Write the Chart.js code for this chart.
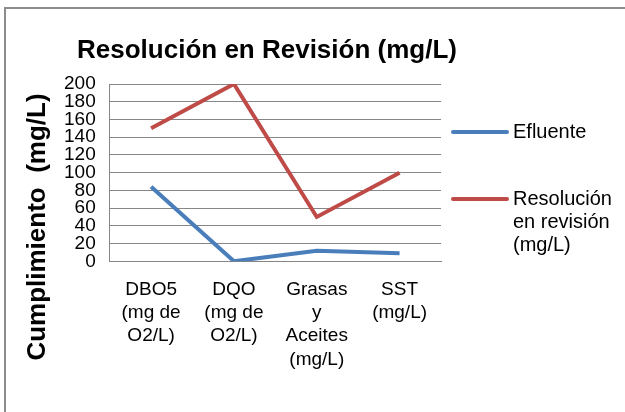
<!DOCTYPE html>
<html lang="es">
<head>
    <meta charset="UTF-8">
    <title>Resolución en Revisión (mg/L)</title>
    <script src="https://cdn.jsdelivr.net/npm/chart.js"></script>
    <style>
        body {
            margin: 0;
            background-color: #ffffff;
            font-family: "Liberation Sans", Arial, sans-serif;
        }
        .frame {
            position: absolute;
            left: 4px;
            top: 7px;
            width: 700px;
            height: 500px;
            border-left: 2px solid #8c8c8c;
            border-top: 2px solid #8c8c8c;
        }
        .wrap {
            position: absolute;
            left: 0;
            top: 0;
            width: 625px;
            height: 412px;
            overflow: hidden;
        }
        canvas {
            position: absolute;
            left: 0;
            top: 0;
        }
    </style>
</head>
<body>
    <div class="wrap">
        <div class="frame"></div>
        <canvas id="chart" width="625" height="412"></canvas>
    </div>
    <script>
        // datos del gráfico
        const categorias = [
            ['DBO5', '(mg de', 'O2/L)'],
            ['DQO', '(mg de', 'O2/L)'],
            ['Grasas', 'y', 'Aceites', '(mg/L)'],
            ['SST', '(mg/L)']
        ];
        const efluente = [84, 0, 12, 9];
        const resolucion = [150, 200, 50, 100];
        const ticksY = [0, 20, 40, 60, 80, 100, 120, 140, 160, 180, 200];
        const titulo = 'Resolución en Revisión (mg/L)';
        const tituloY = 'Cumplimiento  (mg/L)';

        const fuente = '"Liberation Sans", Arial, sans-serif';

        // títulos y leyenda dibujados a mano (la leyenda lleva texto en varias líneas)
        const decoracion = {
            id: 'decoracion',
            afterDraw(chart) {
                const ctx = chart.ctx;
                const area = chart.chartArea;
                ctx.save();
                ctx.fillStyle = '#000000';
                ctx.textBaseline = 'middle';

                // título principal (más ancho que el área del gráfico)
                ctx.font = 'bold 26px ' + fuente;
                ctx.textAlign = 'center';
                ctx.fillText(titulo, 267, 51);

                // título eje Y
                ctx.translate(38, 227);
                ctx.rotate(-Math.PI / 2);
                ctx.fillText(tituloY, 0, 0);
                ctx.setTransform(1, 0, 0, 1, 0, 0);

                // leyenda
                const x0 = area.right + 12;
                const filas = [132, 199];
                ctx.font = '20px ' + fuente;
                ctx.textAlign = 'left';
                chart.data.datasets.forEach((ds, i) => {
                    const y = filas[i];
                    ctx.strokeStyle = ds.borderColor;
                    ctx.lineWidth = 4;
                    ctx.lineCap = 'round';
                    ctx.beginPath();
                    ctx.moveTo(x0, y);
                    ctx.lineTo(x0 + 54, y);
                    ctx.stroke();

                    // partir el texto en líneas
                    const palabras = ds.label.split(' ');
                    const lineas = [];
                    let actual = '';
                    palabras.forEach(p => {
                        const prueba = actual ? actual + ' ' + p : p;
                        if (ctx.measureText(prueba).width > 112 && actual) {
                            lineas.push(actual);
                            actual = p;
                        } else {
                            actual = prueba;
                        }
                    });
                    lineas.push(actual);
                    lineas.forEach((l, j) => {
                        ctx.fillText(l, x0 + 60, y + j * 23);
                    });
                });
                ctx.restore();
            }
        };

        const ctx = document.getElementById('chart').getContext('2d');
        new Chart(ctx, {
            type: 'line',
            data: {
                labels: categorias,
                datasets: [{
                    label: 'Efluente',
                    data: efluente,
                    borderColor: '#4A7EBB',
                    borderWidth: 4,
                    pointRadius: 0,
                    tension: 0
                }, {
                    label: 'Resolución en revisión (mg/L)',
                    data: resolucion,
                    borderColor: '#BE4B48',
                    borderWidth: 4,
                    pointRadius: 0,
                    tension: 0
                }]
            },
            options: {
                responsive: false,
                animation: false,
                layout: {
                    padding: { top: 84, left: 50, right: 184, bottom: 24 }
                },
                plugins: {
                    legend: { display: false },
                    tooltip: { enabled: false },
                    title: { display: false }
                },
                scales: {
                    x: {
                        offset: true,
                        grid: { display: false, drawTicks: false },
                        border: { color: '#868686', width: 1 },
                        ticks: {
                            color: '#000000',
                            padding: 17,
                            maxRotation: 0,
                            autoSkip: false,
                            font: { size: 19, family: fuente, lineHeight: 1.22 }
                        }
                    },
                    y: {
                        min: 0,
                        max: 200,
                        afterBuildTicks: scale => {
                            scale.ticks = ticksY.map(v => ({ value: v }));
                        },
                        grid: { color: '#868686', drawTicks: false },
                        border: { color: '#868686', width: 1 },
                        ticks: {
                            color: '#000000',
                            padding: 14,
                            autoSkip: false,
                            font: { size: 19, family: fuente }
                        }
                    }
                }
            },
            plugins: [decoracion]
        });
    </script>
</body>
</html>
